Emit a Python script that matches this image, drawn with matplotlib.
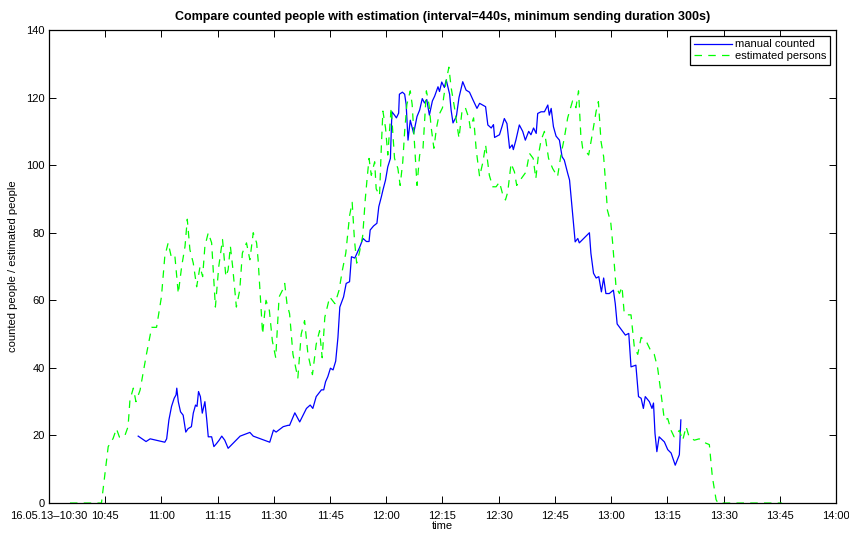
import numpy as np
import matplotlib
matplotlib.use("Agg")
import matplotlib.pyplot as plt

plt.rcParams['font.family'] = ['Liberation Sans', 'DejaVu Sans']

# minutes after 10:30 on 16.05.13
est_t = [5.6, 14.0, 15.8, 17.1, 18.0, 18.8, 20.2, 21.1, 21.6, 22.5, 23.2, 24.3, 26.0, 27.4, 28.7,
         30.0, 30.9, 31.8, 32.7, 33.6, 34.5, 35.4, 36.3, 36.9, 37.6, 38.5, 39.4, 40.3, 41.0, 41.6,
         42.5, 43.4, 44.4, 45.3, 46.3, 47.2, 47.8, 48.4, 49.0, 49.6, 50.0, 50.9, 51.6, 52.7, 53.6,
         54.5, 55.4, 55.8, 56.4, 57.0, 57.9, 58.8, 59.6, 60.5, 61.4, 62.3, 62.9, 63.5, 64.2, 65.1,
         66.4, 67.3, 68.2, 69.1, 70.3, 71.3, 72.2, 72.9, 73.6, 74.9, 76.3, 77.4, 78.3, 79.2, 80.2,
         80.9, 81.5, 82.1, 82.8, 83.7, 84.4, 84.8, 85.4, 86.0, 86.9, 87.3, 88.2, 88.7, 89.1, 89.8,
         90.4, 91.3, 92.2, 93.1, 93.7, 94.4, 94.9, 95.5, 96.4, 96.9, 97.6, 98.2, 98.9, 99.8, 100.7,
         101.4, 102.0, 102.7, 103.4, 104.1, 105.0, 105.3, 106.0, 106.7, 107.3, 108.2, 109.4, 110.2,
         111.1, 112.0, 112.4, 113.3, 114.0, 114.9, 115.8, 116.5, 117.5, 118.4, 119.3, 120.2, 121.0,
         121.8, 122.4, 123.3, 124.2, 124.8, 126.0, 127.3, 128.2, 129.2, 129.9, 130.6, 131.3, 132.2,
         133.3, 134.4, 135.7, 136.6, 137.5, 138.4, 139.7, 140.6, 141.3, 141.9, 142.4, 143.3, 144.0,
         145.1, 146.0, 146.6, 147.3, 148.0, 148.5, 149.0, 149.9, 150.4, 151.3, 152.2, 152.9, 153.5,
         154.4, 155.3, 156.2, 157.1, 158.0, 159.3, 160.6, 161.5, 162.4, 163.3, 164.2, 165.1, 166.0,
         166.8, 168.2, 169.1, 170.0, 170.8, 172.2, 173.5, 175.3, 176.2, 177.0, 178.0, 178.5, 195.6]
est_v = [0, 0, 16.7, 19.1, 22, 19.5, 19.8, 22.6, 30.5, 34, 30, 33.4, 44, 52, 52,
         61, 73, 77, 72.5, 73, 62, 70, 76, 84, 75, 71, 64, 70, 67, 76,
         80, 77, 58, 70, 78, 67, 69, 76, 70, 63, 58, 63, 74, 77, 72,
         80, 77, 72, 61, 50, 60, 57, 48, 43, 61, 63, 65, 59, 56, 44,
         37, 50, 54, 44, 38, 47, 51, 43, 55, 61, 59, 63, 69, 74, 85,
         89, 78, 71, 74, 79, 90, 95, 102, 97, 101, 93, 91, 106, 116, 111,
         103, 117, 102, 99, 94, 101, 110, 118, 122, 118, 105, 94, 103, 105, 122,
         118, 111, 105, 111, 115, 117, 120, 125, 129, 123, 117, 108, 116,
         117, 114, 111, 114, 104.5, 96.6, 101, 106, 97, 93.6, 93.6, 95, 91.6,
         89.7, 92, 100.5, 98, 94, 96, 98, 103.5, 102, 96, 103, 107.4, 110,
         102, 99, 96.6, 103, 108, 114, 119, 117, 122, 109, 105, 104, 103,
         110, 116, 118.8, 107, 102.5, 95, 86.7, 83, 77, 64, 62, 64, 56,
         55.7, 55.7, 46, 44, 49, 48, 45, 44, 40, 32.5, 24.6, 25, 21.5,
         19.6, 21.5, 18.6, 22.6, 19.6, 18.6, 19, 17.7, 17.3, 7.8, 1, 0, 0]

man_t = [23.8, 25.9, 27.0, 30.9, 31.4, 32.0, 32.7, 33.4, 33.9, 34.1, 34.5, 35.1, 35.8, 36.5, 37.1,
         38.0, 38.5, 39.1, 39.5, 39.9, 40.4, 40.9, 41.6, 42.1, 42.5, 43.4, 44.0, 44.7, 45.4, 46.1,
         46.9, 47.8, 49.6, 51.0, 53.6, 54.5, 58.9, 59.9, 60.6, 62.5, 63.8, 64.2, 65.6, 66.9, 68.7,
         69.7, 70.4, 71.3, 72.7, 73.3, 73.8, 74.4, 75.1, 75.8, 76.5, 77.1, 77.6, 78.6, 79.3, 80.2,
         80.7, 81.6, 82.2, 82.9, 83.8, 84.7, 85.4, 85.7, 86.6, 87.5, 88.0, 88.7, 89.1, 89.8, 90.4,
         91.1, 91.5, 92.2, 92.7, 93.3, 93.5, 94.3, 94.9, 95.3, 95.8, 96.4, 97.3, 98.2, 98.9, 99.6,
         100.2, 100.8, 101.5, 102.3, 102.9, 103.8, 104.2, 104.8, 105.5, 106.0, 106.9, 107.3, 107.8,
         108.7, 109.4, 110.4, 111.3, 112.2, 113.1, 114.2, 114.9, 116.5, 117.1, 118.0, 118.6, 118.9,
         120.2, 120.9, 121.5, 122.2, 122.9, 123.6, 123.9, 124.6, 125.5, 126.4, 127.1, 128.0, 128.6,
         129.3, 130.0, 130.4, 131.3, 132.2, 133.1, 133.5, 134.0, 134.6, 135.3, 136.2, 136.9, 137.5,
         138.4, 138.9, 139.7, 140.4, 141.1, 141.5, 142.4, 144.2, 144.6, 145.3, 146.0, 146.7, 147.4,
         148.0, 148.6, 149.5, 150.6, 151.1, 151.6, 152.6, 153.8, 154.7, 155.3, 156.6, 157.3, 158.0,
         158.6, 159.1, 160.2, 160.9, 161.3, 161.7, 162.2, 162.8, 164.2, 165.1, 166.0, 167.1, 168.2,
         168.6]
man_v = [19.8, 18.2, 19, 18, 19, 24.6, 28.6, 31, 32, 34, 30, 27, 26, 21, 22,
         22.6, 26.6, 29, 28.6, 33, 31.5, 26.6, 30, 24.6, 19.6, 19.6, 16.7, 17.6, 18.6, 19.8,
         18.6, 16.2, 18.2, 19.8, 20.9, 19.8, 18, 21.6, 21, 22.6, 23, 23, 26.7, 24, 28,
         29, 28, 31.5, 33.5, 33.5, 35.9, 37.4, 39.9, 39.4, 42, 49, 58, 61, 65, 65.5,
         72.9, 72.5, 74, 75.7, 78.3, 77.4, 77.4, 80.8, 82, 82.8, 87.7, 90.7, 92.6, 95.6, 99.5,
         102, 115.8, 114.8, 114, 115.4, 121, 121.6, 121, 118, 107.4, 113.3, 109.4, 114.4, 116.3, 119.7,
         118.4, 119.4, 114.8, 119, 120.4, 123.2, 121.8, 124.6, 123, 125.2, 121, 116.3, 112.5,
         114.4, 120, 124.7, 122.2, 121.6, 119.4, 116.8, 118.3, 117.3, 111.9, 111, 112, 108.2,
         109, 111.5, 113.8, 112.3, 105, 106, 104.6, 107.5, 111.9, 110, 107.4, 110, 109,
         111, 109.4, 115.3, 115.8, 115.8, 117.8, 114.8, 116.8, 111.4, 108.6, 107.4, 102.5, 101.5,
         97.6, 95.6, 85.7, 77.3, 78.3, 77, 78, 80, 73.9, 68, 66.6, 67, 62.5,
         66.6, 62, 62, 63, 59, 53, 51.5, 49.7, 50.2, 40.3, 40.8, 31.5, 31,
         28, 31.5, 30, 28, 29.6, 20.6, 15.2, 19.6, 18.1, 15.8, 14.8, 11.2, 14.3,
         24.6]

tick_min = np.arange(0, 211, 15)
tick_lab = ['16.05.13\u201310:30', '10:45', '11:00', '11:15', '11:30', '11:45', '12:00', '12:15',
            '12:30', '12:45', '13:00', '13:15', '13:30', '13:45', '14:00']

fig = plt.figure(figsize=(8.49, 5.34), dpi=100)
ax = fig.add_axes([0.0577, 0.058, 0.927, 0.8858])
ax.plot(man_t, man_v, color=(0, 0, 1), lw=0.9, label='manual counted')
ax.plot(est_t, est_v, color=(0, 1, 0), lw=0.9, linestyle=(0, (6, 5)), label='estimated persons')
ax.set_xlim(0, 210)
ax.set_ylim(0, 140)
ax.set_xticks(tick_min)
ax.set_xticklabels(tick_lab)
ax.set_yticks(np.arange(0, 141, 20))
ax.tick_params(direction='in', top=True, right=True, labelsize=8, length=5, width=0.7, pad=3)
ax.tick_params(axis='x', pad=6)
for s in ax.spines.values():
    s.set_linewidth(0.9)
ax.set_xlabel('time', fontsize=8, labelpad=0)
ax.set_ylabel('counted people / estimated people', fontsize=8, labelpad=6)
ax.set_title('Compare counted people with estimation (interval=440s, minimum sending duration 300s)',
             fontsize=9, fontweight='bold', pad=7)
leg = ax.legend(loc='upper right', fontsize=8, fancybox=False, framealpha=1,
                edgecolor='black', borderpad=0.35, labelspacing=0.15, handlelength=3.4,
                handletextpad=0.3, borderaxespad=0.5)
leg.get_frame().set_linewidth(0.9)
fig.savefig('out.png', dpi=100)
